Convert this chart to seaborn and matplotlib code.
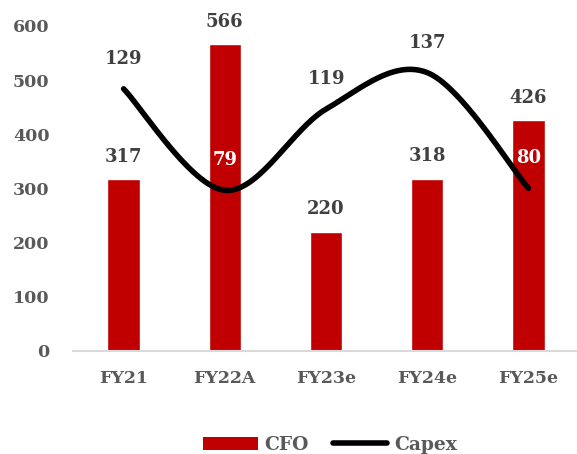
import numpy as np
import matplotlib
matplotlib.use("Agg")
import matplotlib.pyplot as plt
import seaborn as sns
from matplotlib.patches import Patch
from matplotlib.lines import Line2D

categories = ["FY21", "FY22A", "FY23e", "FY24e", "FY25e"]
cfo = [317, 566, 220, 318, 426]
capex = [129, 79, 119, 137, 80]
yticks = [0, 100, 200, 300, 400, 500, 600]

BAR = "#C00000"
TICK = "#595959"
LBL = "#404040"

sns.set_theme(style="white")
plt.rcParams["font.family"] = ["DejaVu Serif"]
plt.rcParams["font.weight"] = "bold"

fig = plt.figure(figsize=(5.77, 4.54), dpi=100)
ax = fig.add_axes([73 / 577, (454 - 350.7) / 454, 506 / 577, 324.8 / 454])

sns.barplot(x=categories, y=cfo, color=BAR, width=0.32, saturation=1, ax=ax)
ax.set_ylim(0, 600)
ax.set_xlim(-0.5, 4.5)
ax.set_yticks(yticks)
ax.set_yticklabels([str(v) for v in yticks], fontsize=12.5, color=TICK, fontweight="bold")
ax.set_xticks(range(len(categories)))
ax.set_xticklabels(categories, fontsize=12.5, color=TICK, fontweight="bold")
ax.tick_params(axis="y", length=0, pad=17)
ax.tick_params(axis="x", length=0, pad=14)
ax.set_xlabel("")
ax.set_ylabel("")
for s in ["top", "right", "left"]:
    ax.spines[s].set_visible(False)
ax.spines["bottom"].set_color("#D9D9D9")
ax.spines["bottom"].set_linewidth(1.5)

for i, v in enumerate(cfo):
    ax.annotate(str(v), (i, v), xytext=(0, 16), textcoords="offset points",
                ha="center", va="center", fontsize=13, color=LBL, fontweight="bold")

ax2 = ax.twinx()
ax2.set_ylim(0, 160)
ax2.set_axis_off()

# smooth (Catmull-Rom / Excel-style) curve through the capex points
xs = np.arange(len(capex), dtype=float)
ys = np.array(capex, dtype=float)
px = np.concatenate([[xs[0]], xs, [xs[-1]]])
py = np.concatenate([[ys[0]], ys, [ys[-1]]])
cx, cy = [], []
t = np.linspace(0, 1, 60)
for k in range(1, len(px) - 2):
    p0x, p1x, p2x, p3x = px[k - 1], px[k], px[k + 1], px[k + 2]
    p0y, p1y, p2y, p3y = py[k - 1], py[k], py[k + 1], py[k + 2]
    c1x, c1y = p1x + (p2x - p0x) / 6, p1y + (p2y - p0y) / 6
    c2x, c2y = p2x - (p3x - p1x) / 6, p2y - (p3y - p1y) / 6
    bx = (1 - t) ** 3 * p1x + 3 * (1 - t) ** 2 * t * c1x + 3 * (1 - t) * t ** 2 * c2x + t ** 3 * p2x
    by = (1 - t) ** 3 * p1y + 3 * (1 - t) ** 2 * t * c1y + 3 * (1 - t) * t ** 2 * c2y + t ** 3 * p2y
    cx.extend(bx)
    cy.extend(by)
ax2.plot(cx, cy, color="black", linewidth=4, solid_capstyle="round", solid_joinstyle="round")

for i, v in enumerate(capex):
    on_bar = cfo[i] * 160 / 600 > v + 8
    ax2.annotate(str(v), (i, v), xytext=(0, 21.5), textcoords="offset points",
                 ha="center", va="center", fontsize=13,
                 color="white" if on_bar else LBL, fontweight="bold")

handles = [Patch(facecolor=BAR, edgecolor="none"),
           Line2D([0], [0], color="black", linewidth=4, solid_capstyle="round")]
fig.legend(handles, ["CFO", "Capex"], loc="center", bbox_to_anchor=(330 / 577, 9 / 454),
           ncol=2, frameon=False, handlelength=2.9, handleheight=0.75,
           handletextpad=0.35, columnspacing=1.3, labelcolor=TICK,
           prop={"weight": "bold", "size": 13.5})

fig.savefig("out.png", dpi=100)
